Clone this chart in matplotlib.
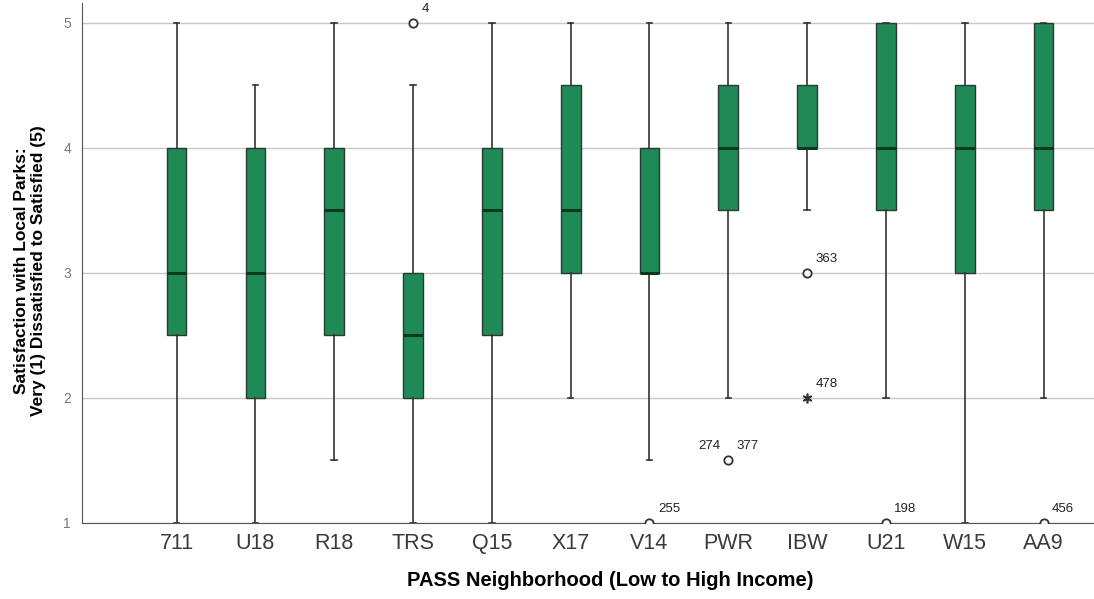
import numpy as np
import matplotlib.pyplot as plt

plt.rcParams["font.family"] = ["Liberation Sans", "DejaVu Sans"]

# Neighborhoods ordered from low to high income
neighborhoods = ["711", "U18", "R18", "TRS", "Q15", "X17", "V14", "PWR", "IBW", "U21", "W15", "AA9"]

# Box summary per neighborhood (satisfaction score 1-5)
whisker_low = [1, 1, 1.5, 1, 1, 2, 1.5, 2, 3.5, 2, 1, 2]
q1 = [2.5, 2, 2.5, 2, 2.5, 3, 3, 3.5, 4, 3.5, 3, 3.5]
medians = [3, 3, 3.5, 2.5, 3.5, 3.5, 3, 4, 4, 4, 4, 4]
q3 = [4, 4, 4, 3, 4, 4.5, 4, 4.5, 4.5, 5, 4.5, 5]
whisker_high = [5, 4.5, 5, 4.5, 5, 5, 5, 5, 5, 5, 5, 5]

# Outlying respondents: (neighborhood, value, case id, kind)
outlier_group = ["TRS", "V14", "PWR", "IBW", "IBW", "U21", "AA9"]
outlier_value = [5, 1, 1.5, 3, 2, 1, 1]
outlier_case = ["4", "255", "377", "363", "478", "198", "456"]
outlier_kind = ["o", "o", "o", "o", "*", "o", "o"]

green = "#1f8a56"

fig = plt.figure(figsize=(10.94, 5.99), dpi=100)
ax = fig.add_axes([0.075, 0.127, 0.925, 0.868])

stats = []
for i, name in enumerate(neighborhoods):
    stats.append({
        "label": name,
        "whislo": whisker_low[i],
        "q1": q1[i],
        "med": medians[i],
        "q3": q3[i],
        "whishi": whisker_high[i],
        "fliers": [],
    })

positions = np.arange(len(neighborhoods))
ax.bxp(stats, positions=positions, widths=0.25, patch_artist=True, showfliers=False,
       boxprops=dict(facecolor=green, edgecolor="#2b3a30", linewidth=1.0),
       medianprops=dict(color="#0b3a1e", linewidth=2.2),
       whiskerprops=dict(color="#333333", linewidth=1.2),
       capprops=dict(color="#333333", linewidth=1.2),
       capwidths=0.07, zorder=3)

# Outliers with their case labels
for g, v, case, kind in zip(outlier_group, outlier_value, outlier_case, outlier_kind):
    x = neighborhoods.index(g)
    if kind == "o":
        ax.plot(x, v, marker="o", ms=6, mfc="white", mec="#333333", mew=1.3, ls="none", zorder=4)
    else:
        ax.plot(x, v, marker=(6, 2, 0), ms=7, color="#333333", mew=1.2, ls="none", zorder=4)
    ax.annotate(case, (x, v), xytext=(6, 6), textcoords="offset points",
                fontsize=9.5, color="#222222", ha="left", va="bottom")

# PWR has two respondents at the same value
ax.annotate("274", (neighborhoods.index("PWR"), 1.5), xytext=(-6, 6), textcoords="offset points",
            fontsize=9.5, color="#222222", ha="right", va="bottom")

ax.set_xlim(-1.2, 11.64)
ax.set_ylim(1, 5.16)
ax.set_yticks([1, 2, 3, 4, 5])
ax.set_xticks(positions)
ax.set_xticklabels(neighborhoods, fontsize=15.5, color="#3a3a3a")
ax.tick_params(axis="y", length=0, labelsize=10, labelcolor="#777777", pad=8)
ax.tick_params(axis="x", length=0, pad=7)

ax.grid(axis="y", color="#c8c8c8", linewidth=1.0, zorder=0)
ax.set_axisbelow(True)
for side in ["top", "right"]:
    ax.spines[side].set_visible(False)
ax.spines["left"].set_color("#555555")
ax.spines["bottom"].set_color("#555555")

ax.set_xlabel("PASS Neighborhood (Low to High Income)", fontsize=14.5, fontweight="bold")
ax.xaxis.set_label_coords(0.522, -0.092)
ax.set_ylabel("Satisfaction with Local Parks:\nVery (1) Dissatisfied to Satisfied (5)",
              fontsize=12.5, fontweight="bold", linespacing=1.1)
ax.yaxis.set_label_coords(-0.036, 0.485)

fig.savefig("out.png", dpi=100)
